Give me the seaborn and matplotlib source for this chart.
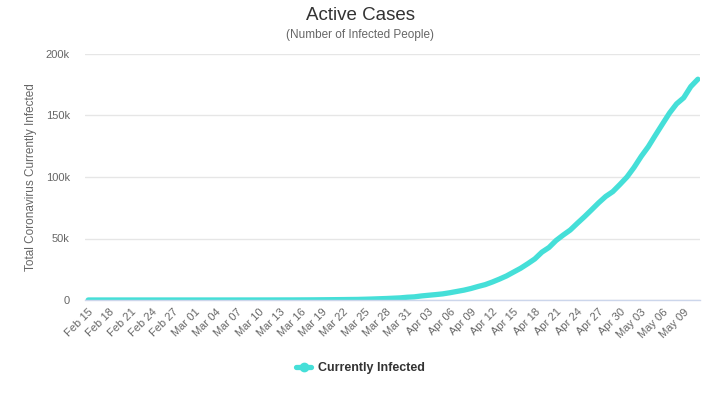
import matplotlib
matplotlib.use("Agg")
import matplotlib.pyplot as plt
import seaborn as sns
import pandas as pd
import numpy as np
from matplotlib.lines import Line2D

# ---- data ----
start_date = "2020-02-15"
end_date = "2020-05-11"
active_feb = [0] * 15  # Feb 15 - Feb 29
active_mar = [0, 1, 1, 1, 2, 8, 11, 15, 15, 18, 26, 32, 43, 57, 60, 88, 108, 142, 194,
              244, 296, 350, 422, 473, 620, 790, 1000, 1200, 1460, 1730, 2240]
active_apr = [2550, 3290, 3850, 4380, 4980, 5890, 6950, 8010, 9360, 11000, 12500, 14600,
              16970, 19540, 22680, 25800, 29500, 33400, 38900, 42700, 48400, 52800, 56900,
              62400, 67700, 73300, 79000, 84200, 88100, 93900]
active_may = [100000, 107800, 116700, 124600, 133900, 143000, 152000, 159500, 164400,
              173500, 179500]
tick_labels = ["Feb 15", "Feb 18", "Feb 21", "Feb 24", "Feb 27", "Mar 01", "Mar 04",
               "Mar 07", "Mar 10", "Mar 13", "Mar 16", "Mar 19", "Mar 22", "Mar 25",
               "Mar 28", "Mar 31", "Apr 03", "Apr 06", "Apr 09", "Apr 12", "Apr 15",
               "Apr 18", "Apr 21", "Apr 24", "Apr 27", "Apr 30", "May 03", "May 06",
               "May 09"]
y_ticks = [0, 50000, 100000, 150000, 200000]
y_tick_labels = ["0", "50k", "100k", "150k", "200k"]
series_name = "Currently Infected"

values = active_feb + active_mar + active_apr + active_may
dates = pd.date_range(start_date, end_date, freq="D")
df = pd.DataFrame({"idx": np.arange(len(values)), "date": dates, "active": values})

# ---- style ----
sns.set_theme(style="white")
plt.rcParams["font.family"] = ["Liberation Sans", "DejaVu Sans"]

fig = plt.figure(figsize=(7.25, 3.99), dpi=100)
ax = fig.add_axes([85 / 725, 1 - 300 / 399, 615 / 725, 246 / 399])

color = "#45dfd8"
sns.lineplot(data=df, x="idx", y="active", ax=ax, color=color, linewidth=3.8,
             label=series_name, legend=False, solid_capstyle="round")

ax.set_ylim(0, 200000)
ax.set_xlim(-0.45, len(values) - 1 + 0.3)
ax.set_yticks(y_ticks)
ax.set_yticklabels(y_tick_labels)
ax.set_xticks(np.arange(0, len(values), 3)[:len(tick_labels)])
ax.set_xticklabels(tick_labels, rotation=45, ha="right", rotation_mode="anchor")

ax.tick_params(axis="y", length=0, pad=11, labelsize=8, labelcolor="#666666")
ax.tick_params(axis="x", length=0, pad=5, labelsize=8, labelcolor="#666666")
ax.grid(axis="y", color="#e6e6e6", linewidth=1)
ax.set_axisbelow(True)
for s in ["top", "right", "left"]:
    ax.spines[s].set_visible(False)
ax.spines["bottom"].set_color("#ccd6eb")
ax.spines["bottom"].set_linewidth(1)

ax.set_xlabel("")
ax.set_ylabel("Total Coronavirus Currently Infected", color="#666666", fontsize=8.5,
              labelpad=6)

fig.text(0.497, 1 - 15 / 399, "Active Cases", ha="center", va="center",
         fontsize=13.5, color="#333333")
fig.text(0.497, 1 - 35 / 399, "(Number of Infected People)", ha="center", va="center",
         fontsize=8.5, color="#666666")

h = Line2D([0], [0], color=color, linewidth=3.8, marker="o", markersize=6,
           markerfacecolor=color, markeredgecolor=color)
leg = fig.legend([h], [series_name], loc="center", bbox_to_anchor=(0.497, 1 - 368 / 399),
                 frameon=False, handlelength=1.2, handletextpad=0.5,
                 prop={"weight": "bold", "size": 9})
for t in leg.get_texts():
    t.set_color("#333333")

fig.savefig("out.png", dpi=100, facecolor="white")
